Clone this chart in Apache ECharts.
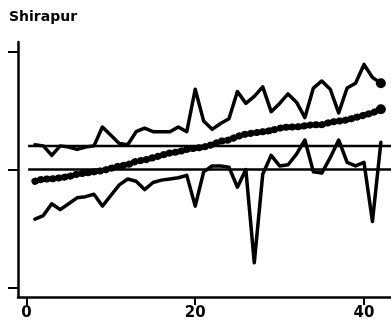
<!DOCTYPE html>
<html><head><meta charset="utf-8">
<script src="https://cdn.jsdelivr.net/npm/echarts@6/dist/echarts.min.js"></script>
<style>html,body{margin:0;padding:0;background:#fff}#c{width:391px;height:334px}</style>
</head><body><div id="c"></div>
<script>
var title = "Shirapur";
var xTicks = [0, 20, 40];
var yTicks = [-1, 0, 1];
var upper = [0.21,0.20,0.12,0.20,0.19,0.17,0.19,0.20,0.36,0.29,0.22,0.21,0.32,0.35,0.32,0.32,0.32,0.36,0.32,0.68,0.41,0.34,0.39,0.43,0.66,0.56,0.62,0.70,0.49,0.56,0.64,0.57,0.44,0.69,0.75,0.68,0.48,0.69,0.73,0.89,0.78,0.73];
var lower = [-0.42,-0.39,-0.29,-0.34,-0.29,-0.24,-0.23,-0.21,-0.31,-0.22,-0.13,-0.08,-0.10,-0.17,-0.11,-0.09,-0.08,-0.07,-0.05,-0.31,-0.02,0.03,0.03,0.02,-0.15,0.00,-0.79,-0.04,0.12,0.03,0.04,0.13,0.25,-0.02,-0.03,0.10,0.25,0.06,0.03,0.06,-0.44,0.23];
var trend = [-0.10,-0.08,-0.08,-0.07,-0.06,-0.04,-0.03,-0.02,-0.01,0.01,0.03,0.04,0.07,0.08,0.10,0.12,0.14,0.15,0.17,0.18,0.19,0.21,0.24,0.25,0.28,0.30,0.31,0.32,0.33,0.35,0.36,0.36,0.37,0.38,0.38,0.40,0.41,0.42,0.44,0.46,0.48,0.51];
var refLevels = [0.2, 0];
var xRange = [-1, 43.2];
var yRange = [-1.08, 1.08];

function toPts(arr, endDot) {
  return arr.map(function (v, i) {
    if (endDot && i === arr.length - 1) return {value: [i + 1, v], symbol: 'circle', symbolSize: 10};
    return [i + 1, v];
  });
}
var chart = echarts.init(document.getElementById('c'), null, {renderer: 'canvas'});
var series = [];
refLevels.forEach(function (lv) {
  series.push({type: 'line', data: [[0.2, lv], [xRange[1], lv]], symbol: 'none', silent: true,
    lineStyle: {color: '#000', width: 2.5}});
});
series.push({type: 'line', data: toPts(upper, true), symbol: 'none', showSymbol: true,
  itemStyle: {color: '#000'}, lineStyle: {color: '#000', width: 3.5, join: 'round', cap: 'round'}});
series.push({type: 'line', data: toPts(lower, false), symbol: 'none',
  lineStyle: {color: '#000', width: 3.5, join: 'round', cap: 'round'}});
series.push({type: 'line', data: toPts(trend, true), symbol: 'none', showSymbol: true,
  itemStyle: {color: '#000'}, lineStyle: {color: '#000', width: 7, type: [0.5, 5.5], cap: 'round'}});

chart.setOption({
  animation: false,
  title: {text: title, left: 4, top: 5, textStyle: {fontFamily: 'DejaVu Sans', fontWeight: 'bold', fontSize: 14, color: '#000'}},
  grid: {left: 18, right: 0, top: 42, bottom: 37},
  xAxis: {type: 'value', min: xRange[0], max: xRange[1], splitLine: {show: false},
    axisLine: {onZero: false, lineStyle: {color: '#000', width: 2.5}},
    axisTick: {customValues: xTicks, length: 8, lineStyle: {color: '#000', width: 2}},
    axisLabel: {customValues: xTicks, color: '#000', fontFamily: 'DejaVu Sans', fontWeight: 'bold', fontSize: 15, margin: 9}},
  yAxis: {type: 'value', min: yRange[0], max: yRange[1], splitLine: {show: false},
    axisLine: {show: true, onZero: false, lineStyle: {color: '#000', width: 2.5}},
    axisTick: {show: true, customValues: yTicks, length: 10, lineStyle: {color: '#000', width: 2}},
    axisLabel: {show: false}},
  series: series
});
</script></body></html>
